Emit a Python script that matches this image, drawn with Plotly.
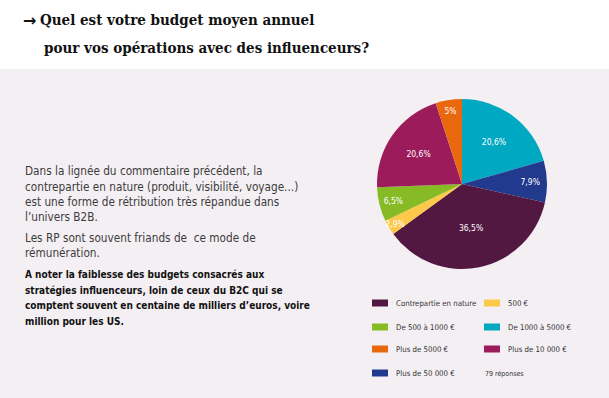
import plotly.graph_objects as go

# ---- data ----
slice_labels = ["De 1000 à 5000 €", "Plus de 50 000 €", "Contrepartie en nature", "500 €",
                "De 500 à 1000 €", "Plus de 10 000 €", "Plus de 5000 €"]
slice_values = [20.6, 7.9, 36.5, 2.9, 6.5, 20.6, 5.0]
slice_colors = ["#00a8c2", "#223a8e", "#531842", "#fcc94b", "#86bb26", "#9c1b5b", "#ea680d"]

legend_order = ["Contrepartie en nature", "500 €", "De 500 à 1000 €", "De 1000 à 5000 €",
                "Plus de 5000 €", "Plus de 10 000 €", "Plus de 50 000 €"]
responses_note = "79 réponses"

title_lines = ["Quel est votre budget moyen annuel", "pour vos opérations avec des influenceurs?"]
body_lines = [
    ("Dans la lignée du commentaire précédent, la", False),
    ("contrepartie en nature (produit, visibilité, voyage...)", False),
    ("est une forme de rétribution très répandue dans", False),
    ("l’univers B2B.", False),
    ("Les RP sont souvent friands de  ce mode de", False),
    ("rémunération.", False),
    ("A noter la faiblesse des budgets consacrés aux", True),
    ("stratégies influenceurs, loin de ceux du B2C qui se", True),
    ("comptent souvent en centaine de milliers d’euros, voire", True),
    ("million pour les US.", True),
]

W, H = 609, 398
def px(x): return x / W
def py(y): return 1 - y / H

fig = go.Figure()

slice_text = [f"{v:g}%".replace(".", ",") for v in slice_values]
fig.add_trace(go.Pie(
    labels=slice_labels, values=slice_values, text=slice_text,
    textinfo="text", textposition="inside", insidetextorientation="horizontal",
    sort=False, direction="clockwise", rotation=0,
    marker=dict(colors=slice_colors, line=dict(width=0)),
    textfont=dict(family="DejaVu Sans Condensed", size=8.5, color="white"),
    domain=dict(x=[px(377), px(547)], y=[py(269), py(99)]),
    showlegend=False, hoverinfo="label+percent",
))

shapes = [dict(type="rect", xref="paper", yref="paper", x0=0, x1=1, y0=0, y1=py(69),
               fillcolor="#f4eff3", line=dict(width=0), layer="below")]
annotations = []

# title
title_font = dict(family="DejaVu Serif Condensed", size=15, color="#111111")
annotations.append(dict(text="<b>→</b>", x=px(21), y=py(20), xref="paper", yref="paper",
                        xanchor="left", yanchor="middle", showarrow=False,
                        font=dict(family="DejaVu Sans", size=16, color="#111111")))
annotations.append(dict(text="<b>" + title_lines[0] + "</b>", x=px(38), y=py(20), xref="paper", yref="paper",
                        xanchor="left", yanchor="middle", showarrow=False, font=title_font))
annotations.append(dict(text="<b>" + title_lines[1] + "</b>", x=px(42), y=py(48), xref="paper", yref="paper",
                        xanchor="left", yanchor="middle", showarrow=False, font=title_font))

# body text
body_y = [171, 187, 202, 217, 238, 253, 274, 290, 305, 321]
for (line, bold), yy in zip(body_lines, body_y):
    annotations.append(dict(text=("<b>%s</b>" % line) if bold else line, x=px(23), y=py(yy),
                            xref="paper", yref="paper", xanchor="left", yanchor="middle", showarrow=False,
                            font=dict(family="DejaVu Sans Condensed", size=10 if bold else 11.7,
                                      color="#111111" if bold else "#3c3c3c")))

# custom legend (2 columns)
color_of = dict(zip(slice_labels, slice_colors))
row_y = [303, 327, 349, 373]
col_x = [372, 484]
for i, name in enumerate(legend_order):
    r, c = divmod(i, 2)
    x0 = col_x[c]
    yy = row_y[r]
    shapes.append(dict(type="rect", xref="paper", yref="paper", x0=px(x0), x1=px(x0 + 16),
                       y0=py(yy + 3.5), y1=py(yy - 3.5), fillcolor=color_of[name], line=dict(width=0)))
    annotations.append(dict(text=name, x=px(x0 + 22), y=py(yy), xref="paper", yref="paper",
                            xanchor="left", yanchor="middle", showarrow=False,
                            font=dict(family="DejaVu Sans Condensed", size=7.8, color="#333333")))
annotations.append(dict(text=responses_note, x=px(483), y=py(374), xref="paper", yref="paper",
                        xanchor="left", yanchor="middle", showarrow=False,
                        font=dict(family="DejaVu Sans Condensed", size=7, color="#333333")))

fig.update_layout(
    width=W, height=H, margin=dict(l=0, r=0, t=0, b=0),
    paper_bgcolor="white", plot_bgcolor="white",
    shapes=shapes, annotations=annotations,
    uniformtext=dict(minsize=8.5, mode="show"),
)

fig.write_html("out.html", config={"displayModeBar": False},
               post_script="document.body.style.margin='0';document.body.style.overflow='hidden';")
